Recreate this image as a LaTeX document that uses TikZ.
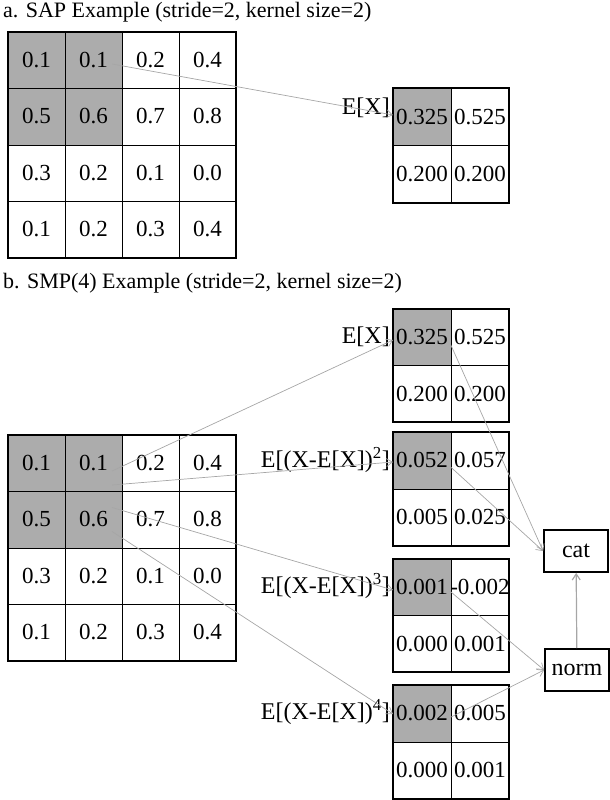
\documentclass[tikz,border=0pt]{standalone}
\usepackage{fontspec}
\setmainfont{Liberation Serif}
\usetikzlibrary{arrows.meta}
\begin{document}
\begin{tikzpicture}[x=1pt,y=-1pt,
  num/.style={font=\fontsize{23}{23}\selectfont,inner sep=0pt},
  lab/.style={font=\fontsize{24}{24}\selectfont,inner sep=1pt,anchor=east},
  ttl/.style={font=\fontsize{22}{22}\selectfont,inner sep=0pt,anchor=west},
  arr/.style={draw=gray!70,line width=0.7pt,-{Straight Barb[length=6pt,width=8pt]}},
  box/.style={draw,line width=1.8pt,font=\fontsize{24}{24}\selectfont,minimum width=64pt,minimum height=42pt,inner sep=0pt},
  shade/.style={fill=gray!65}]
\useasboundingbox (0,0) rectangle (610,800);
\node[ttl] (t1) at (3,12) {a. SAP Example (stride=2, kernel size=2)};
\node[ttl] (t2) at (3,283) {b. SMP(4) Example (stride=2, kernel size=2)};
% input grids
\foreach \oy/\gn in {32/A,435/B}{
  \fill[gray!65] (8,\oy) rectangle (122,\oy+113);
  \foreach \r/\row in {0/{0.1,0.1,0.2,0.4},1/{0.5,0.6,0.7,0.8},2/{0.3,0.2,0.1,0.0},3/{0.1,0.2,0.3,0.4}}{
    \foreach \v [count=\c from 0] in \row {
      \node[num] (\gn\r\c) at (36.5+57*\c,\oy+28+56.5*\r) {\v};
    }
  }
  \foreach \i in {1,2,3}{
    \draw[line width=0.6pt] (8+57*\i,\oy) -- (8+57*\i,\oy+226);
    \draw[line width=0.6pt] (8,\oy+56.5*\i) -- (236,\oy+56.5*\i);
  }
  \draw[line width=1.8pt] (8,\oy) rectangle (236,\oy+226);
}
% output grids
\foreach \oy/\h/\gn/\a/\b/\c/\d in {88/115/O/0.325/0.525/0.200/0.200,309/113/P/0.325/0.525/0.200/0.200,432/114/Q/0.052/0.057/0.005/0.025,559/113/R/0.001/-0.002/0.000/0.001,685/114/S/0.002/0.005/0.000/0.001}{
  \fill[gray!65] (393,\oy) rectangle (451,\oy+\h/2);
  \draw[line width=0.6pt] (451,\oy) -- (451,\oy+\h);
  \draw[line width=0.6pt] (393,\oy+\h/2) -- (509,\oy+\h/2);
  \draw[line width=1.8pt] (393,\oy) rectangle (509,\oy+\h);
  \node[num] (\gn a) at (422,\oy+\h/4) {\a};
  \node[num] (\gn b) at (480,\oy+\h/4) {\b};
  \node[num] (\gn c) at (422,\oy+3*\h/4) {\c};
  \node[num] (\gn d) at (480,\oy+3*\h/4) {\d};
}
% labels
\node[lab] (l0) at (391,108) {E[X]};
\node[lab] (l1) at (391,337) {E[X]};
\node[lab] (l2) at (391,460) {E[(X-E[X])\textsuperscript{2}]};
\node[lab] (l3) at (391,586) {E[(X-E[X])\textsuperscript{3}]};
\node[lab] (l4) at (391,712) {E[(X-E[X])\textsuperscript{4}]};
% boxes
\node[box] (cat) at (576,551) {cat};
\node[box] (norm) at (577,670) {norm};
% arrows
\draw[arr] (A01.east) ++(4,4) -- (393,115);
\draw[arr] (B01.east) ++(4,8) -- (393,340);
\draw[arr] (B01.east) ++(4,22) -- (393,462);
\draw[arr] (B11.east) ++(4,-12) -- (393,590);
\draw[arr] (B11.east) ++(4,12) -- (393,714);
\draw[arr] (Pa.east) ++(2,6) -- (cat.west);
\draw[arr] (Qa.east) ++(2,6) -- (cat.west);
\draw[arr] (Ra.east) ++(2,4) -- (norm.west);
\draw[arr] (Sa.east) ++(2,4) -- (norm.west);
\draw[arr,line width=1.2pt] (norm) -- (cat);
\end{tikzpicture}
\end{document}
